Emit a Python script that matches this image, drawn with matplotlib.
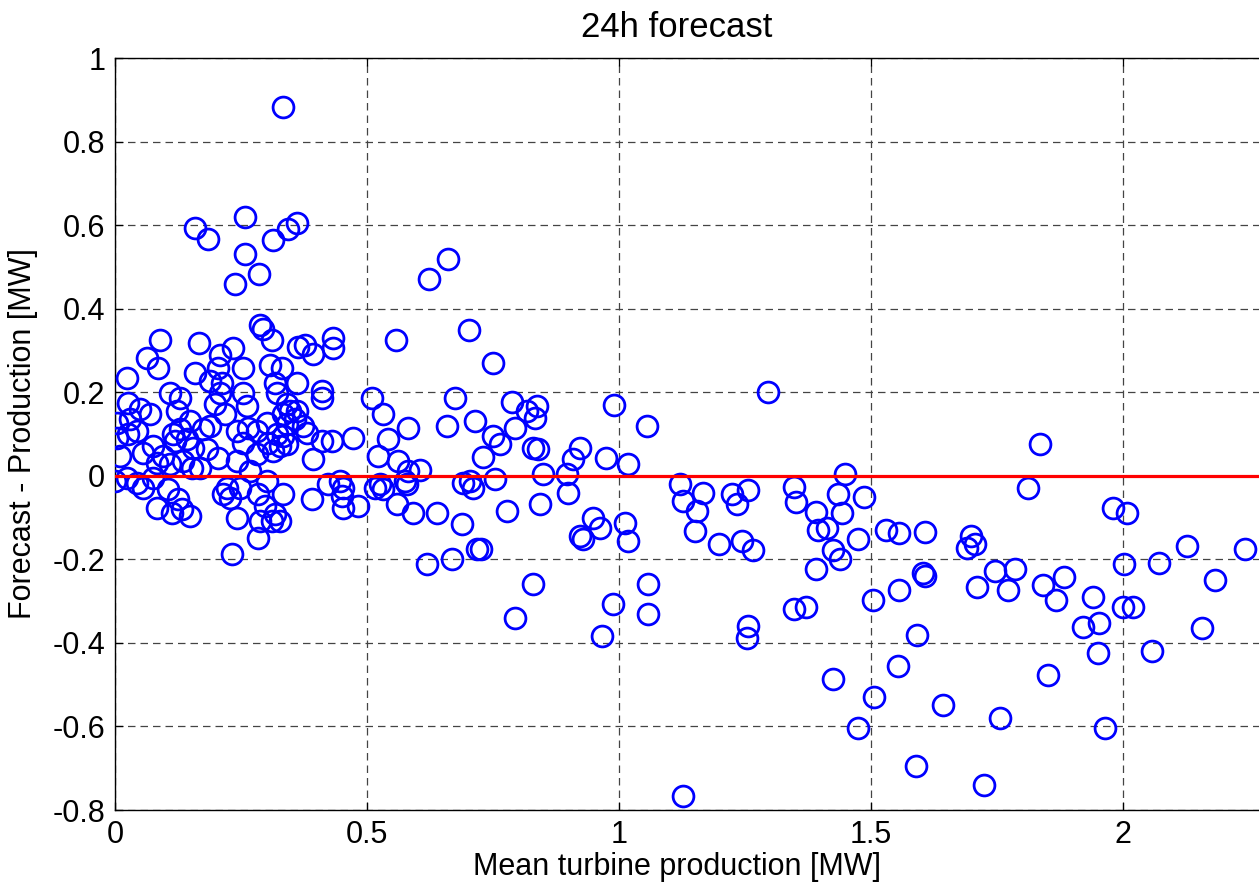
import matplotlib
matplotlib.use("Agg")
import matplotlib.pyplot as plt

plt.rcParams['font.family'] = ['Liberation Sans', 'DejaVu Sans']

# Mean turbine production [MW]
x_prod = [
    0.333, 0.159, 0.185, 0.258, 0.258, 0.238, 0.286, 0.314, 0.343, 0.361,
    0.288, 0.294, 0.311, 0.363, 0.089, 0.063, 0.085, 0.024, 0.167, 0.159,
    0.188, 0.204, 0.208, 0.234, 0.212, 0.254, 0.307, 0.331, 0.317, 0.361,
    0.661, 0.623, 0.558, 0.702, 0.433, 0.433, 0.377, 0.393, 0.411, 0.510,
    0.675, 0.750, 0.990, 1.056, 0.788, 0.837, 0.817, 0.833, 0.714, 0.794,
    0.532, 0.581, 0.542, 0.522, 0.562, 0.581, 0.605, 0.526, 0.516, 0.532,
    0.575, 0.579, 0.560, 0.591, 0.639, 0.688, 0.718, 0.619, 0.669, 0.659,
    0.730, 0.690, 0.704, 0.710, 0.472, 0.430, 0.411, 0.393, 0.423, 0.446,
    0.452, 0.450, 0.452, 0.482, 0.391, 0.333, 0.327, 0.411, 0.347, 0.357,
    0.373, 0.381, 0.341, 0.333, 0.327, 0.333, 0.764, 0.750, 0.829, 0.839,
    0.923, 0.909, 0.974, 1.018, 0.849, 0.897, 0.899, 0.754, 0.778, 0.843,
    0.948, 0.962, 0.923, 0.929, 1.012, 1.018, 0.829, 1.058, 0.988, 1.058,
    0.794, 0.966, 0.727, 1.121, 1.127, 1.167, 1.155, 1.151, 1.198, 1.296,
    1.448, 1.224, 1.256, 1.234, 1.347, 1.351, 1.435, 1.486, 1.391, 1.442,
    1.395, 1.413, 1.474, 1.244, 1.266, 1.425, 1.438, 1.391, 1.530, 1.556,
    1.607, 1.698, 1.706, 1.690, 1.603, 1.607, 1.746, 1.556, 1.504, 1.710,
    1.347, 1.371, 1.256, 1.254, 1.591, 1.554, 1.425, 1.506, 1.643, 1.474,
    1.589, 1.724, 1.756, 1.127, 1.835, 1.811, 1.980, 2.008, 1.786, 1.772,
    1.841, 1.883, 1.867, 1.940, 2.002, 2.000, 2.020, 1.921, 1.952, 1.950,
    2.058, 1.851, 1.964, 2.072, 2.127, 2.242, 2.183, 2.157,
    0.109, 0.129, 0.026, 0.050, 0.069, 0.004, 0.030, 0.004, 0.026, 0.044,
    0.010, 0.056, 0.075, 0.095, 0.115, 0.129, 0.119, 0.143, 0.123, 0.149,
    0.175, 0.188, 0.198, 0.218, 0.208, 0.254, 0.262, 0.242, 0.264, 0.282,
    0.254, 0.304, 0.321, 0.361, 0.302, 0.321, 0.341, 0.000, 0.024, 0.044,
    0.056, 0.075, 0.083, 0.105, 0.113, 0.133, 0.149, 0.125, 0.153, 0.169,
    0.135, 0.109, 0.083, 0.155, 0.183, 0.204, 0.222, 0.228, 0.214, 0.242,
    0.232, 0.242, 0.268, 0.248, 0.284, 0.302, 0.298, 0.317, 0.311, 0.288,
    0.284, 0.282, 0.313, 0.341,
]

# Forecast - Production [MW]
y_err = [
    0.883, 0.592, 0.566, 0.619, 0.532, 0.458, 0.482, 0.564, 0.590, 0.604,
    0.360, 0.352, 0.324, 0.309, 0.324, 0.283, 0.257, 0.233, 0.319, 0.245,
    0.228, 0.259, 0.288, 0.307, 0.223, 0.259, 0.264, 0.257, 0.223, 0.223,
    0.520, 0.472, 0.324, 0.348, 0.329, 0.307, 0.312, 0.292, 0.204, 0.187,
    0.187, 0.269, 0.170, 0.120, 0.177, 0.168, 0.156, 0.139, 0.132, 0.115,
    0.149, 0.115, 0.089, 0.048, 0.036, 0.012, 0.014, -0.019, -0.029, -0.031,
    -0.012, -0.019, -0.067, -0.089, -0.089, -0.115, -0.175, -0.211, -0.199, 0.120,
    0.045, -0.017, -0.012, -0.029, 0.091, 0.084, 0.084, 0.041, -0.019, -0.012,
    -0.029, -0.048, -0.077, -0.072, -0.055, -0.043, -0.108, 0.185, 0.156, 0.137,
    0.120, 0.103, 0.125, 0.096, 0.072, 0.149, 0.077, 0.096, 0.067, 0.065,
    0.067, 0.041, 0.043, 0.029, 0.005, 0.005, -0.041, -0.007, -0.084, -0.067,
    -0.100, -0.124, -0.144, -0.151, -0.113, -0.156, -0.259, -0.259, -0.307, -0.331,
    -0.341, -0.384, -0.175, -0.019, -0.060, -0.041, -0.084, -0.132, -0.163, 0.201,
    0.005, -0.043, -0.034, -0.067, -0.026, -0.062, -0.043, -0.050, -0.086, -0.089,
    -0.129, -0.125, -0.151, -0.156, -0.177, -0.177, -0.199, -0.223, -0.129, -0.137,
    -0.134, -0.144, -0.163, -0.172, -0.233, -0.240, -0.228, -0.273, -0.297, -0.266,
    -0.319, -0.314, -0.360, -0.388, -0.381, -0.456, -0.487, -0.530, -0.549, -0.604,
    -0.695, -0.739, -0.580, -0.767, 0.077, -0.029, -0.077, -0.089, -0.223, -0.273,
    -0.261, -0.242, -0.297, -0.290, -0.211, -0.314, -0.314, -0.362, -0.353, -0.424,
    -0.420, -0.477, -0.604, -0.208, -0.168, -0.175, -0.249, -0.365,
    0.197, 0.185, 0.175, 0.161, 0.149, 0.127, 0.137, 0.091, 0.100, 0.108,
    0.048, 0.055, 0.072, 0.048, 0.100, 0.113, 0.084, 0.089, 0.156, 0.132,
    0.113, 0.120, 0.173, 0.149, 0.197, 0.197, 0.168, 0.108, 0.115, 0.108,
    0.079, 0.079, 0.100, 0.156, 0.127, 0.199, 0.173, -0.012, -0.005, -0.017,
    -0.029, -0.005, -0.077, -0.031, -0.089, -0.079, -0.096, -0.055, 0.019, 0.019,
    0.036, 0.029, 0.031, 0.067, 0.065, 0.043, -0.029, -0.053, -0.043, -0.101,
    -0.187, 0.036, 0.012, -0.029, -0.043, -0.012, -0.072, -0.091, -0.108, -0.108,
    -0.149, 0.053, 0.060, 0.077,
]

x_ticks = [0, 0.5, 1, 1.5, 2]
x_ticklabels = ['0', '0.5', '1', '1.5', '2']
y_ticks = [-0.8, -0.6, -0.4, -0.2, 0, 0.2, 0.4, 0.6, 0.8, 1]
y_ticklabels = ['-0.8', '-0.6', '-0.4', '-0.2', '0', '0.2', '0.4', '0.6', '0.8', '1']

W, H = 1259, 883
fig = plt.figure(figsize=(W / 100, H / 100), dpi=100)
left_px, right_px, top_px, bottom_px = 115, 1375, 58, 810
ax = fig.add_axes([left_px / W, (H - bottom_px) / H,
                   (right_px - left_px) / W, (bottom_px - top_px) / H])

ax.plot(x_prod, y_err, linestyle='none', marker='o', markersize=15,
        markerfacecolor='none', markeredgecolor='#0000ff', markeredgewidth=2.0,
        zorder=3)
ax.axhline(0, color='#ff0000', linewidth=2.3, zorder=4)

ax.set_xlim(0, 2.5)
ax.set_ylim(-0.8, 1)
ax.set_xticks(x_ticks)
ax.set_xticklabels(x_ticklabels)
ax.set_yticks(y_ticks)
ax.set_yticklabels(y_ticklabels)

ax.grid(True, color='#444444', linestyle=(0, (6, 4)), linewidth=0.9, zorder=1)
ax.set_axisbelow(True)
ax.tick_params(direction='in', length=6, width=0.9, labelsize=22,
               top=True, right=True, pad=7, colors='black')
for s in ax.spines.values():
    s.set_linewidth(1.0)
    s.set_color('black')

cx = (677 - left_px) / (right_px - left_px)
ax.set_title('24h forecast', fontsize=25, x=cx, pad=15)
ax.set_xlabel('Mean turbine production [MW]', fontsize=22)
ax.xaxis.set_label_coords(cx, -0.056)
ax.set_ylabel('Forecast - Production [MW]', fontsize=22)
ax.yaxis.set_label_coords(-0.061, 0.5)

fig.savefig('out.png', dpi=100)
